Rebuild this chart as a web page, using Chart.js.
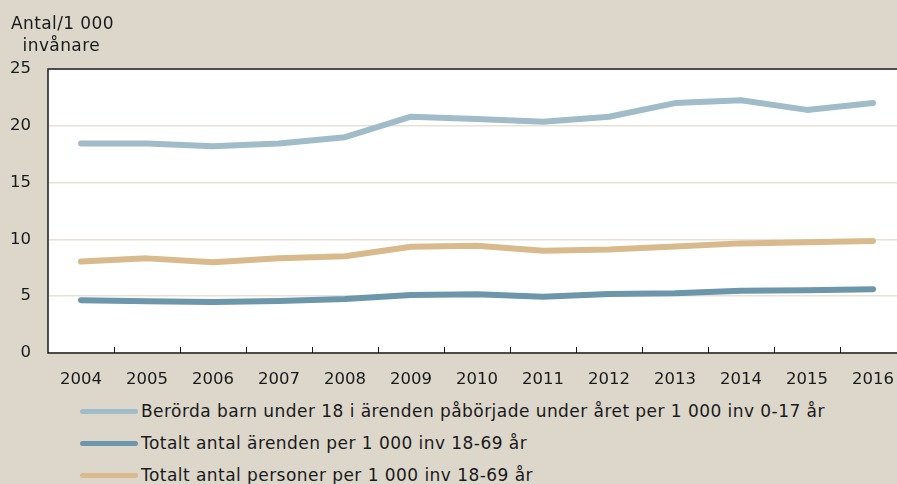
<!DOCTYPE html>
<html>
<head>
<meta charset="utf-8">
<script src="https://cdn.jsdelivr.net/npm/chart.js@4/dist/chart.umd.min.js"></script>
<style>
  html, body { margin: 0; padding: 0; background: #ddd6cb; overflow: hidden; width: 897px; height: 484px; }
  body { position: relative; font-family: 'DejaVu Sans', sans-serif; color: #1a1a1a; }
  #wrap { position: absolute; left: 0; top: 0; width: 910px; height: 395px; }
  #yTitle { position: absolute; left: 11px; top: 12px; font-size: 17px; line-height: 22px; letter-spacing: 0.4px; }
  #legend { position: absolute; left: 80px; top: 395px; font-size: 17px; letter-spacing: 0.45px; }
  .row { height: 32px; display: flex; align-items: center; white-space: nowrap; }
  .swatch { width: 58px; height: 5px; border-radius: 3px; margin-right: 3px; }
</style>
</head>
<body>
<div id="wrap"><canvas id="chart"></canvas></div>
<div id="yTitle">Antal/1 000<br>&nbsp;&nbsp;invånare</div>
<div id="legend"></div>
<script>
const years = ['2004', '2005', '2006', '2007', '2008', '2009', '2010', '2011', '2012', '2013', '2014', '2015', '2016']
const yTicks = [0, 5, 10, 15, 20, 25]

const barnValues = [18.45, 18.45, 18.2, 18.45, 19.0, 20.8, 20.6, 20.35, 20.8, 22.0, 22.25, 21.4, 22.0]
const arendenValues = [4.65, 4.55, 4.5, 4.58, 4.75, 5.1, 5.18, 4.95, 5.2, 5.27, 5.47, 5.53, 5.62]
const personerValues = [8.05, 8.33, 7.98, 8.35, 8.52, 9.36, 9.45, 9.0, 9.12, 9.38, 9.65, 9.74, 9.86]

const labels = [
    'Berörda barn under 18 i ärenden påbörjade under året per 1 000 inv 0-17 år',
    'Totalt antal ärenden per 1 000 inv 18-69 år',
    'Totalt antal personer per 1 000 inv 18-69 år'
]
const colors = ['#a0bcc8', '#6c96a9', '#d9ba8c']

function makeSet(i, values) {
    return {
        label: labels[i],
        data: values,
        borderColor: colors[i],
        backgroundColor: colors[i],
        borderWidth: 6,
        borderCapStyle: 'round',
        borderJoinStyle: 'round',
        pointRadius: 0,
        tension: 0
    }
}

// white plot area, frame around it and small inward ticks between years
const framePlugin = {
    id: 'frame',
    beforeDraw(chart) {
        const a = chart.chartArea
        chart.ctx.save()
        chart.ctx.fillStyle = '#ffffff'
        chart.ctx.fillRect(a.left, a.top, a.right - a.left, a.bottom - a.top)
        chart.ctx.restore()
    },
    afterDraw(chart) {
        const ctx = chart.ctx
        const a = chart.chartArea
        const x = chart.scales.x
        ctx.save()
        ctx.strokeStyle = '#1a1a1a'
        ctx.lineWidth = 1.5
        ctx.strokeRect(a.left, a.top, a.right - a.left, a.bottom - a.top)
        ctx.beginPath()
        for (let i = 1; i < years.length; i++) {
            const px = Math.round((x.getPixelForValue(i - 1) + x.getPixelForValue(i)) / 2) + 0.5
            ctx.moveTo(px, a.bottom)
            ctx.lineTo(px, a.bottom - 6)
        }
        ctx.lineWidth = 1
        ctx.stroke()
        ctx.restore()
    }
}

const tickFont = { family: 'DejaVu Sans', size: 16.5 }
const ctx = document.getElementById('chart').getContext('2d')

const chart = new Chart(ctx, {
    type: 'line',
    data: {
        labels: years,
        datasets: [makeSet(0, barnValues), makeSet(1, arendenValues), makeSet(2, personerValues)]
    },
    options: {
        responsive: true,
        maintainAspectRatio: false,
        animation: false,
        layout: { padding: { top: 69, left: 0, right: 4, bottom: 0 } },
        plugins: {
            legend: { display: false },
            tooltip: { enabled: false }
        },
        scales: {
            x: {
                offset: true,
                grid: { display: false, offset: true },
                border: { display: false },
                ticks: { color: '#1a1a1a', font: tickFont, padding: 9, maxRotation: 0, autoSkip: false },
                afterFit: s => { s.height = 42 }
            },
            y: {
                min: 0,
                max: 25,
                afterBuildTicks: s => { s.ticks = yTicks.map(v => ({ value: v })) },
                grid: { color: '#e8e1d6', lineWidth: 1.5, drawTicks: false },
                border: { display: false },
                ticks: { color: '#1a1a1a', font: tickFont, padding: 17 },
                afterFit: s => { s.width = 48 }
            }
        }
    },
    plugins: [framePlugin]
})

const legend = document.getElementById('legend')
chart.data.datasets.forEach(ds => {
    const row = document.createElement('div')
    row.className = 'row'
    const sw = document.createElement('div')
    sw.className = 'swatch'
    sw.style.background = ds.borderColor
    const txt = document.createElement('span')
    txt.textContent = ds.label
    row.appendChild(sw)
    row.appendChild(txt)
    legend.appendChild(row)
})
</script>
</body>
</html>
